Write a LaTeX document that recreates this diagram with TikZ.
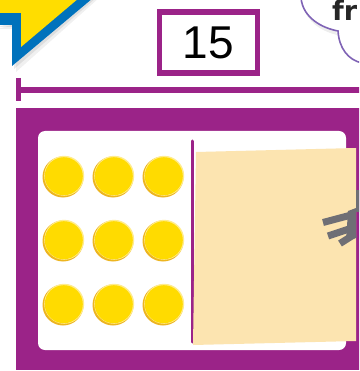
\documentclass[tikz,border=0pt]{standalone}
\usepackage{fontspec}
\setmainfont{Liberation Sans}
\newfontfamily\bubblefont{DejaVu Sans}
\definecolor{frame}{HTML}{9B2388}
\definecolor{starblue}{HTML}{0072BC}
\definecolor{staryellow}{HTML}{FFDD00}
\definecolor{paper}{HTML}{FCE4B0}
\definecolor{handgray}{HTML}{6F6F75}
\definecolor{bubbleline}{HTML}{7F63B5}
\definecolor{goldedge}{HTML}{EDB520}
\definecolor{goldlight}{HTML}{FFEC8C}
\definecolor{gold}{HTML}{FFDB00}

\begin{document}
\begin{tikzpicture}[
    x=1pt, y=-1pt,
    finger/.style={handgray, line width=7pt},
    bar/.style={frame, line width=5.5pt}
]
\useasboundingbox (0,0) rectangle (359,371);
\clip (0,0) rectangle (359,371);

% starburst in the corner
\fill[black, opacity=0.06] (-2,29) -- (16,29) -- (16,72) -- (99,-2) -- cycle;
\fill[black, opacity=0.08] (-2,27) -- (14,27) -- (14,69) -- (96,-2) -- cycle;
\fill[starblue] (-2,25) -- (12,25) -- (12,66) -- (93,-2) -- (-2,-2) -- cycle;
\fill[staryellow] (-2,13) -- (21,13) -- (21,47) -- (79,-2) -- (-2,-2) -- cycle;

% speech bubble
\fill[black, opacity=0.07] (305,12) .. controls (312,26) and (325,32) .. (337,35)
    -- (336,31) .. controls (322,28) and (306,20) .. (303,6) -- cycle;
\draw[bubbleline, line width=1.6pt] (301,-2) .. controls (303,18) and (322,28) .. (338,31)
    .. controls (339,48) and (348,60) .. (362,63);
\node[anchor=base west, inner sep=0, text=black!85,
      font=\bubblefont\bfseries\fontsize{27}{27}\selectfont] (speech) at (332,21) {fr};

% number label
\node[draw=frame, line width=5.5pt, minimum width=98pt, minimum height=61pt,
      inner sep=0, font=\fontsize{46}{46}\selectfont] (total) at (208.5,42.5) {15};

% measuring bar
\coordinate (barL) at (16,90);
\coordinate (barR) at (365,90);
\draw[bar] (barL) -- (barR);
\draw[frame, line width=5pt] (18.5,78) -- (18.5,101);

% frame and board
\fill[frame] (16,108) rectangle (365,370);
\fill[white, rounded corners=7pt] (38,131) rectangle (346,350);
\draw[frame, line width=3pt, line cap=round] (192,141) -- (192,342);

% counters
\foreach \cx in {63,113,163} {
    \foreach \cy in {177,241,305} {
        \fill[goldedge] (\cx,\cy) circle[radius=20.5pt];
        \fill[goldlight] (\cx+1.2,\cy-1.2) circle[radius=20pt];
        \fill[gold] (\cx+0.8,\cy-0.8) circle[radius=19pt];
    }
}

% paper cover
\fill[paper] (196,152) -- (356,148) -- (356,341) -- (193,345) -- cycle;

% hand holding the cover
\fill[handgray] (356,190) rectangle (360,212);
\draw[finger] (323,222.5) -- (355,214);
\draw[finger] (328,236) -- (355,227);
\draw[finger] (340,243.5) -- (355,234);
\fill[handgray] (348,211) -- (356,208) -- (356,238) -- (346,241) -- cycle;
\end{tikzpicture}
\end{document}
